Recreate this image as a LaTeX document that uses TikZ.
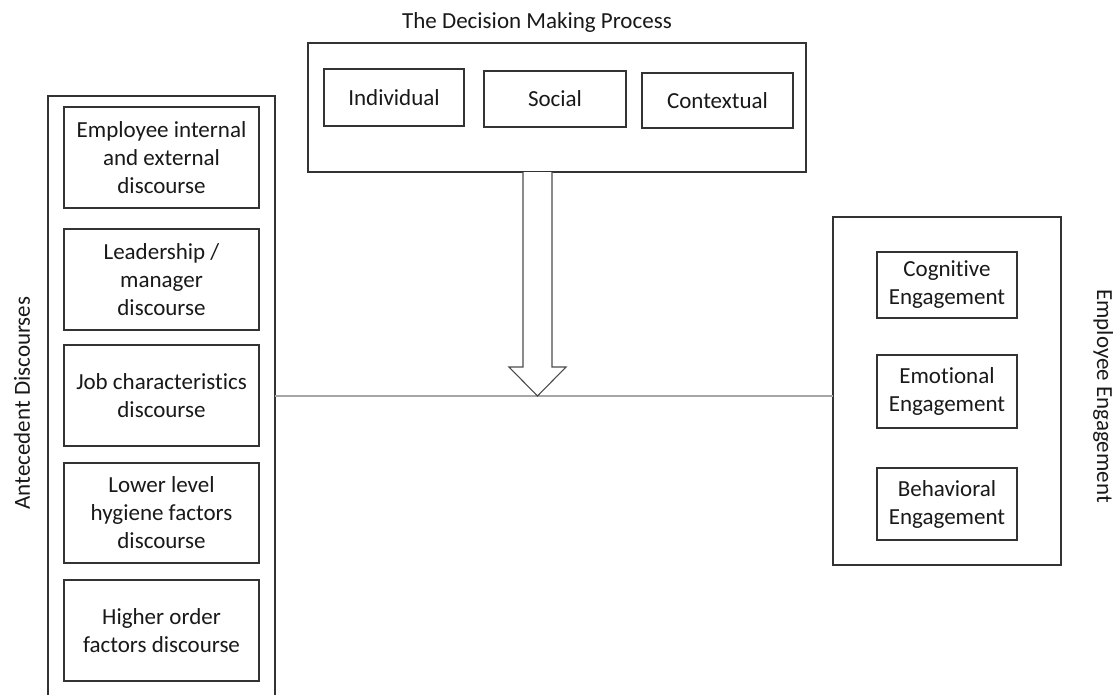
\documentclass[tikz,border=0pt]{standalone}
\usepackage{fontspec}
\setmainfont[Ligatures=NoCommon]{Carlito}
\begin{document}
\begin{tikzpicture}[x=1pt,y=-1pt,
  every node/.style={inner sep=0pt,outer sep=0pt,align=center,
    font=\fontsize{23}{28}\selectfont,text=black!90},
  frame/.style={draw=black!80,line width=1.1pt,fill=white},
  item/.style={draw=black!80,line width=1.1pt,fill=white},
  link/.style={draw=black!35,line width=1.2pt},
  bigarrow/.style={draw=black!70,line width=1.1pt,fill=white,line join=miter}]
\useasboundingbox (0,0) rectangle (1114,694);
\clip (0,0) rectangle (1114,694);

% decision making process (top)
\node (dmtitle) at (537,22) {The Decision Making Process};
\node[frame,minimum width=498pt,minimum height=129pt] (dm) at (557,107.5) {};
\node[item,minimum width=140pt,minimum height=57pt] (indiv) at (394,97.5) {Individual};
\node[item,minimum width=142pt,minimum height=56pt] (social) at (555,99) {Social};
\node[item,minimum width=151pt,minimum height=55pt] (context) at (717.5,100.5) {Contextual};

% antecedent discourses (left)
\node[frame,minimum width=227pt,minimum height=614pt] (ante) at (161.5,403) {};
\node[rotate=90] (antetitle) at (22,403) {Antecedent Discourses};
\node[item,minimum width=195pt,minimum height=101pt] (a1) at (161.5,157.5) {Employee internal\\and external\\discourse};
\node[item,minimum width=195pt,minimum height=101pt] (a2) at (161.5,279.5) {Leadership /\\manager\\discourse};
\node[item,minimum width=195pt,minimum height=101pt] (a3) at (161.5,395.5) {Job characteristics\\discourse};
\node[item,minimum width=195pt,minimum height=100pt] (a4) at (161.5,513) {Lower level\\hygiene factors\\discourse};
\node[item,minimum width=195pt,minimum height=101pt] (a5) at (161.5,630.5) {Higher order\\factors discourse};

% employee engagement (right)
\node[frame,minimum width=228pt,minimum height=348pt] (eng) at (947,391) {};
\node[rotate=-90] (engtitle) at (1103,396) {Employee Engagement};
\node[item,minimum width=140pt,minimum height=66pt] (e1) at (947,285) {Cognitive\\Engagement};
\node[item,minimum width=140pt,minimum height=73pt] (e2) at (947,391.5) {Emotional\\Engagement};
\node[item,minimum width=140pt,minimum height=72pt] (e3) at (947,504) {Behavioral\\Engagement};

% link between antecedents and engagement
\coordinate (tip) at (537.5,396);
\draw[link] (ante.east |- tip) -- (eng.west |- tip);

% block arrow from the decision process down to the link line
\draw[bigarrow] ([xshift=-14.5pt]tip |- dm.south) -- ++(0,195) -- ++(-14,0)
  -- (tip) -- ++(28.5,-29) -- ++(-14,0) -- ([xshift=14.5pt]tip |- dm.south);
\end{tikzpicture}
\end{document}
